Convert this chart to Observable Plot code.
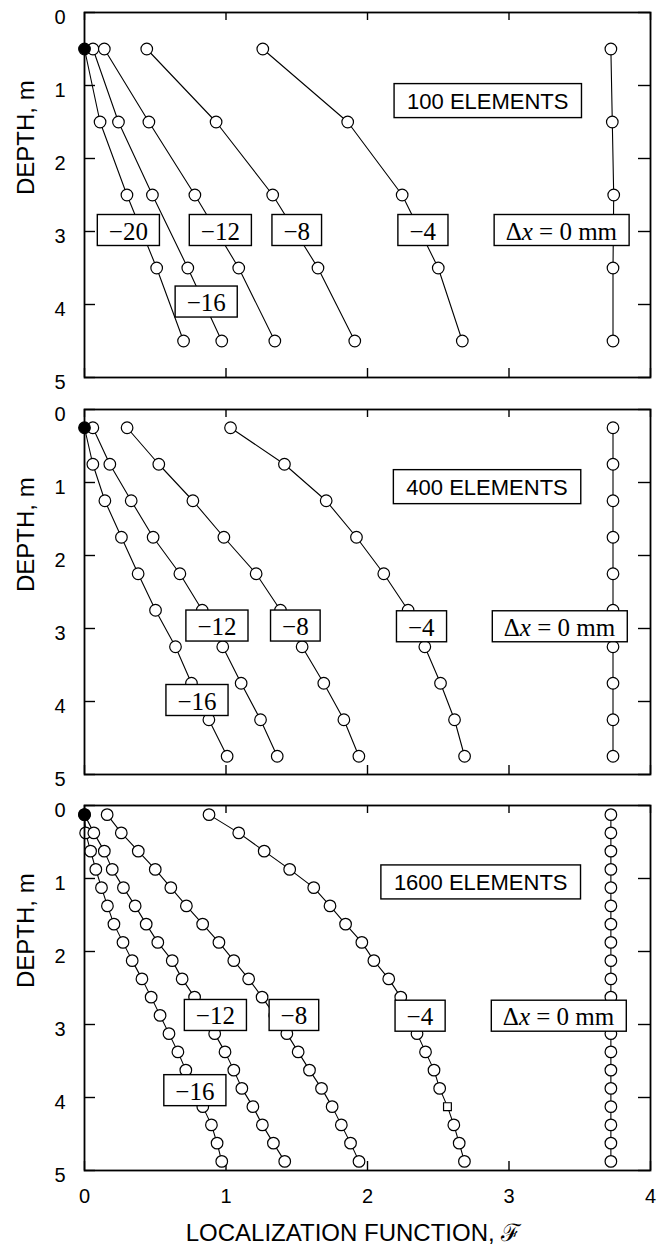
<!DOCTYPE html>
<html><head><meta charset="utf-8">
<script src="https://cdn.jsdelivr.net/npm/d3@7"></script>
<script src="https://cdn.jsdelivr.net/npm/@observablehq/plot@0.6"></script>
<style>
body{margin:0;background:#fff}
#chart svg{display:block;background:#fff}
</style>
</head><body><div id="chart"></div>
<script>
// ---------- ticks ----------
const xTicks = [0, 1, 2, 3, 4];
const yTicks = [0, 1, 2, 3, 4, 5];

// ---------- 100 elements ----------
const depth100 = [0.5, 1.5, 2.5, 3.5, 4.5];
const f100_m20 = [0, 0.11, 0.30, 0.51, 0.70];
const f100_m16 = [0.06, 0.24, 0.48, 0.73, 0.97];
const f100_m12 = [0.14, 0.455, 0.78, 1.09, 1.345];
const f100_m8  = [0.44, 0.93, 1.33, 1.65, 1.91];
const f100_m4  = [1.26, 1.86, 2.245, 2.50, 2.67];
const f100_0   = [3.72, 3.73, 3.74, 3.735, 3.735];

// ---------- 400 elements ----------
const depth400 = [0.25, 0.75, 1.25, 1.75, 2.25, 2.75, 3.25, 3.75, 4.25, 4.75];
const f400_m16 = [0, 0.059, 0.144, 0.261, 0.379, 0.502, 0.643, 0.756, 0.879, 1.008];
const f400_m12 = [0.059, 0.179, 0.33, 0.485, 0.674, 0.832, 0.977, 1.107, 1.244, 1.362];
const f400_m8  = [0.301, 0.525, 0.766, 0.985, 1.213, 1.385, 1.538, 1.691, 1.833, 1.939];
const f400_m4  = [1.032, 1.413, 1.708, 1.922, 2.115, 2.287, 2.405, 2.516, 2.615, 2.686];
const f400_0   = [3.735, 3.735, 3.735, 3.735, 3.735, 3.735, 3.735, 3.735, 3.735, 3.735];

// ---------- 1600 elements ----------
const depth1600 = [0.125, 0.375, 0.625, 0.875, 1.125, 1.375, 1.625, 1.875, 2.125, 2.375,
                   2.625, 2.875, 3.125, 3.375, 3.625, 3.875, 4.125, 4.375, 4.625, 4.875];
const f1600_m16 = [0, 0.008, 0.043, 0.08, 0.12, 0.162, 0.208, 0.272, 0.337, 0.406,
                   0.471, 0.534, 0.597, 0.66, 0.716, 0.77, 0.836, 0.897, 0.937, 0.97];
const f1600_m12 = [0, 0.066, 0.14, 0.196, 0.275, 0.358, 0.436, 0.518, 0.62, 0.69,
                   0.778, 0.85, 0.92, 0.993, 1.055, 1.112, 1.19, 1.257, 1.335, 1.415];
const f1600_m8  = [0.16, 0.26, 0.38, 0.5, 0.61, 0.72, 0.835, 0.95, 1.055, 1.16,
                   1.255, 1.345, 1.43, 1.51, 1.59, 1.675, 1.75, 1.815, 1.88, 1.94];
const f1600_m4  = [0.88, 1.09, 1.27, 1.45, 1.62, 1.735, 1.845, 1.96, 2.045, 2.15,
                   2.235, 2.29, 2.35, 2.41, 2.47, 2.51, 2.565, 2.61, 2.648, 2.685];
const f1600_0   = [3.72, 3.72, 3.72, 3.72, 3.72, 3.72, 3.72, 3.72, 3.72, 3.72,
                   3.72, 3.72, 3.72, 3.72, 3.72, 3.72, 3.72, 3.72, 3.72, 3.72];
// one point drawn as a small square instead of a circle
const squarePoints = [{panel: "1600", series: "−4", depth: 4.125}];

// ---------- labels ----------
const labels100 = [
  {text: "−20", x: 0.31, y: 3.0}, {text: "−12", x: 0.96, y: 3.0},
  {text: "−8", x: 1.50, y: 3.0}, {text: "−4", x: 2.39, y: 3.0},
  {text: "Δx = 0 mm", x: 3.37, y: 3.0}, {text: "−16", x: 0.86, y: 3.98}
];
const labels400 = [
  {text: "−12", x: 0.936, y: 2.98}, {text: "−8", x: 1.49, y: 2.98},
  {text: "−4", x: 2.38, y: 2.99}, {text: "Δx = 0 mm", x: 3.357, y: 2.99},
  {text: "−16", x: 0.795, y: 4.0}
];
const labels1600 = [
  {text: "−12", x: 0.925, y: 2.89}, {text: "−8", x: 1.48, y: 2.89},
  {text: "−4", x: 2.37, y: 2.9}, {text: "Δx = 0 mm", x: 3.35, y: 2.9},
  {text: "−16", x: 0.78, y: 3.92}
];
const elemLabels = [
  {text: "100 ELEMENTS", x: 2.85, y: 1.22},
  {text: "400 ELEMENTS", x: 2.845, y: 1.07},
  {text: "1600 ELEMENTS", x: 2.8, y: 1.06}
];
const yTitle = "DEPTH, m";
const xTitle = "LOCALIZATION FUNCTION, ℱ";

// ---------- build tables ----------
function table(panel, depths, series) {
  const out = [];
  for (const [name, vals] of series) {
    vals.forEach((v, i) => out.push({
      panel, series: name, depth: depths[i], f: v,
      square: squarePoints.some(s => s.panel === panel && s.series === name && s.depth === depths[i])
    }));
  }
  return out;
}
const data100 = table("100", depth100, [["−20", f100_m20], ["−16", f100_m16], ["−12", f100_m12], ["−8", f100_m8], ["−4", f100_m4], ["0", f100_0]]);
const data400 = table("400", depth400, [["−16", f400_m16], ["−12", f400_m12], ["−8", f400_m8], ["−4", f400_m4], ["0", f400_0]]);
const data1600 = table("1600", depth1600, [["−16", f1600_m16], ["−12", f1600_m12], ["−8", f1600_m8], ["−4", f1600_m4], ["0", f1600_0]]);

const SANS = "Liberation Sans, Arial, Helvetica, sans-serif";
const SERIF = "Liberation Serif, Times New Roman, serif";
const W = 660, ML = 84, MR = 10;
const PW = W - ML - MR;
const fmt = d => String(d);

function panel({data, labels, elem, height, mt, mb, bottomAxis}) {
  const PH = height - mt - mb;
  const marks = [
    Plot.tickY(yTicks, {y: d => d, insetRight: PW - 11, stroke: "black", strokeWidth: 1.4}),
    Plot.tickY(yTicks, {y: d => d, insetLeft: PW - 12, stroke: "black", strokeWidth: 1.4}),
    Plot.tickX(xTicks, {x: d => d, insetBottom: PH - 8, stroke: "black", strokeWidth: 1.4}),
    Plot.tickX(xTicks, {x: d => d, insetTop: PH - 9, stroke: "black", strokeWidth: 1.4}),
    Plot.line(data, {x: "f", y: "depth", z: "series", stroke: "black", strokeWidth: 1.1}),
    Plot.dot(data.filter(d => !d.square && d.f !== 0), {x: "f", y: "depth", r: 5.8, fill: "white", stroke: "black", strokeWidth: 1.2}),
    Plot.dot(data.filter(d => !d.square && d.f === 0), {x: "f", y: "depth", r: 5.8, fill: "black", stroke: "black", strokeWidth: 1.2}),
    Plot.dot(data.filter(d => d.square), {x: "f", y: "depth", r: 4.4, symbol: "square", fill: "white", stroke: "black", strokeWidth: 1.2}),
    Plot.frame({stroke: "black", strokeWidth: 1.8}),
    Plot.axisY(yTicks, {anchor: "left", tickSize: 0, tickPadding: 19, fontSize: 20, label: null, dy: 5, fontFamily: SANS, tickFormat: fmt}),
    Plot.text([yTitle], {frameAnchor: "left", dx: -58, rotate: -90, fontSize: 24, fontFamily: SANS, fill: "black"}),
    Plot.text(labels, {x: "x", y: "y", text: "text", fontSize: 25, fontFamily: SERIF, fill: "black"}),
    Plot.text([elem], {x: "x", y: "y", text: "text", fontSize: 22, fontFamily: SANS, fill: "black"})
  ];
  if (bottomAxis) {
    marks.push(Plot.axisX(xTicks, {anchor: "bottom", tickSize: 0, tickPadding: 18, fontSize: 20, label: null, fontFamily: SANS, tickFormat: fmt}));
    marks.push(Plot.text([xTitle], {frameAnchor: "bottom", dx: -14, dy: 70, fontSize: 24, fontFamily: SANS, fill: "black"}));
  }
  return Plot.plot({
    width: W, height, marginLeft: ML, marginRight: MR, marginTop: mt, marginBottom: mb,
    x: {domain: [0, 4], axis: null},
    y: {domain: [0, 5], reverse: true, axis: null},
    style: {fontFamily: SANS, color: "black", background: "white", overflow: "visible"},
    marks
  });
}

const chart = document.getElementById("chart");
const svgs = [
  panel({data: data100, labels: labels100, elem: elemLabels[0], height: 393, mt: 12, mb: 16}),
  panel({data: data400, labels: labels400, elem: elemLabels[1], height: 397, mt: 16, mb: 16}),
  panel({data: data1600, labels: labels1600, elem: elemLabels[2], height: 467, mt: 15, mb: 87, bottomAxis: true})
];
svgs.forEach(s => chart.appendChild(s));

// white boxes with black borders behind the in-plot labels
const NS = "http://www.w3.org/2000/svg";
const numSet = new Set([...labels100, ...labels400, ...labels1600].map(d => d.text));
const elemSet = new Set(elemLabels.map(d => d.text));
svgs.forEach(svg => {
  svg.querySelectorAll("text").forEach(t => {
    const s = t.textContent;
    const isNum = numSet.has(s), isElem = elemSet.has(s);
    if (!isNum && !isElem) return;
    if (s === "Δx = 0 mm") {
      t.textContent = "";
      const a = document.createElementNS(NS, "tspan"); a.textContent = "Δ";
      const b = document.createElementNS(NS, "tspan"); b.textContent = "x"; b.setAttribute("font-style", "italic");
      const c = document.createElementNS(NS, "tspan"); c.textContent = " = 0 mm";
      t.append(a, b, c);
    }
    const bb = t.getBBox();
    const px = isNum ? 11.5 : 13, pyTop = isNum ? 3 : 5, pyBot = isNum ? 1 : 4;
    const r = document.createElementNS(NS, "rect");
    r.setAttribute("x", bb.x - px);
    r.setAttribute("y", bb.y - pyTop);
    r.setAttribute("width", bb.width + 2 * px);
    r.setAttribute("height", bb.height + pyTop + pyBot);
    r.setAttribute("fill", "white");
    r.setAttribute("stroke", "black");
    r.setAttribute("stroke-width", "1.4");
    const tr = t.getAttribute("transform");
    if (tr) r.setAttribute("transform", tr);
    t.parentNode.insertBefore(r, t);
  });
});
</script>
</body></html>
